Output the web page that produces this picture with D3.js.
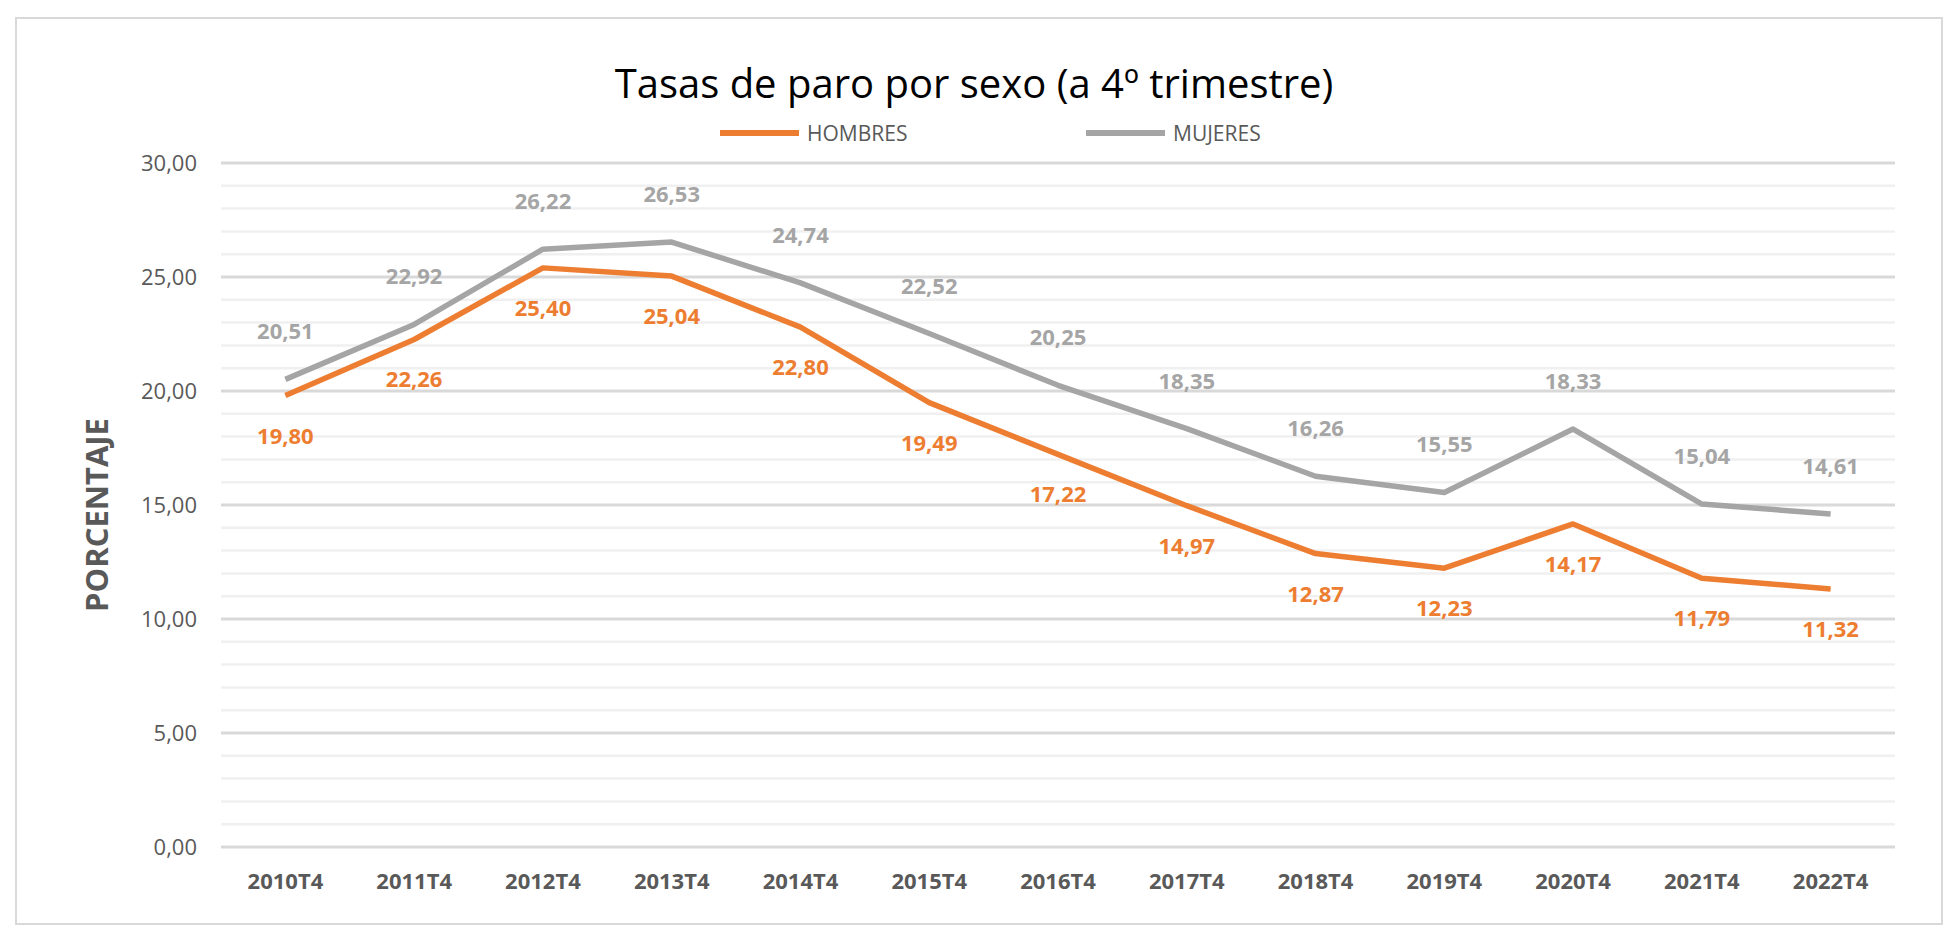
<!DOCTYPE html><html><head><meta charset="utf-8"><script src="https://cdn.jsdelivr.net/npm/d3@7"></script>
<style>body{margin:0;background:#fff}text{font-family:"Open Sans",sans-serif}</style></head><body><svg id="c" width="1948" height="942"></svg><script>
const categories=["2010T4","2011T4","2012T4","2013T4","2014T4","2015T4","2016T4","2017T4","2018T4","2019T4","2020T4","2021T4","2022T4"];
const hombres=[19.80,22.26,25.40,25.04,22.80,19.49,17.22,14.97,12.87,12.23,14.17,11.79,11.32];
const mujeres=[20.51,22.92,26.22,26.53,24.74,22.52,20.25,18.35,16.26,15.55,18.33,15.04,14.61];
const yTicks=[0,5,10,15,20,25,30];
const svg=d3.select("#c");
svg.append("rect").attr("x",16).attr("y",18).attr("width",1926).attr("height",906).attr("fill","#fff").attr("stroke","#d9d9d9").attr("stroke-width",2);
const x=d3.scaleBand().domain(categories).range([221,1895]);
const y=d3.scaleLinear().domain([0,30]).range([847,163]);
const fmt=v=>v.toFixed(2).replace(".",",");
svg.append("g").selectAll("line").data(d3.range(0,31)).join("line").attr("x1",221).attr("x2",1895).attr("y1",d=>y(d)).attr("y2",d=>y(d)).attr("stroke",d=>d%5===0?"#d9d9d9":"#f0f0f0").attr("stroke-width",d=>d%5===0?3:2.5);
const ya=svg.append("g").attr("transform","translate(221,0)").call(d3.axisLeft(y).tickValues(yTicks).tickFormat(fmt).tickSize(0).tickPadding(24));
ya.select(".domain").remove();ya.selectAll("text").attr("font-size",22).attr("fill","#595959").style("font-family","Open Sans");
const xa=svg.append("g").attr("transform","translate(0,847)").call(d3.axisBottom(x).tickSize(0).tickPadding(26));
xa.select(".domain").remove();xa.selectAll("text").attr("font-size",22).attr("font-weight","bold").attr("fill","#595959").style("font-family","Open Sans");
svg.append("text").attr("transform","translate(108,515) rotate(-90)").attr("text-anchor","middle").attr("font-size",31).attr("font-weight","bold").attr("fill","#595959").text("PORCENTAJE");
svg.append("text").attr("x",974).attr("y",98).attr("text-anchor","middle").attr("font-size",40).attr("fill","#000").text("Tasas de paro por sexo (a 4º trimestre)");
const series=[{n:"HOMBRES",v:hombres,c:"#ed7d31",lx:720,dy:48},{n:"MUJERES",v:mujeres,c:"#a5a5a5",lx:1086,dy:-40}];
const line=d3.line().x((d,i)=>x(categories[i])+x.bandwidth()/2).y(d=>y(d));
series.slice().reverse().forEach(s=>{
svg.append("path").datum(s.v).attr("d",line).attr("fill","none").attr("stroke",s.c).attr("stroke-width",5.5).attr("stroke-linejoin","round");});
series.forEach(s=>{
svg.append("line").attr("x1",s.lx).attr("x2",s.lx+79).attr("y1",133).attr("y2",133).attr("stroke",s.c).attr("stroke-width",6);
svg.append("text").attr("x",s.lx+87).attr("y",141).attr("font-size",21).attr("fill","#595959").text(s.n);
svg.append("g").selectAll("text").data(s.v).join("text").attr("x",(d,i)=>x(categories[i])+x.bandwidth()/2).attr("y",d=>y(d)+s.dy).attr("text-anchor","middle").attr("font-size",22).attr("font-weight","bold").attr("fill",s.c).text(fmt);
});
</script></body></html>
